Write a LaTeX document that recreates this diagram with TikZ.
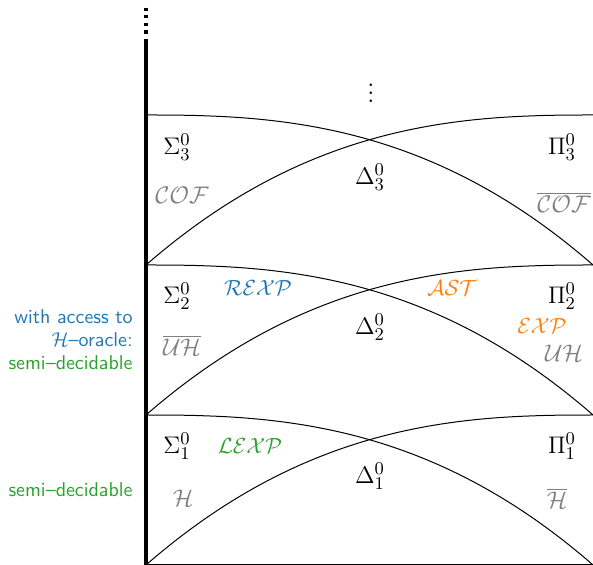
\documentclass[tikz,border=0pt]{standalone}
\definecolor{cblue}{RGB}{31,119,180}
\definecolor{corange}{RGB}{255,127,14}
\definecolor{cgreen}{RGB}{44,160,44}
\begin{document}
\begin{tikzpicture}[x=0.5pt,y=-0.5pt,
  curve/.style={line width=0.5pt},
  lvl/.style={font=\fontsize{13}{15}\selectfont, inner sep=0pt},
  cls/.style={text=gray, font=\fontsize{13}{15}\selectfont, inner sep=0pt},
  lang/.style={font=\fontsize{11}{13}\selectfont, inner sep=0pt},
  side/.style={font=\sffamily\fontsize{10}{11.5}\selectfont, align=right, anchor=east, inner sep=0pt}]
\useasboundingbox (0,0) rectangle (593,565);
% axis
\draw[line width=1.6pt] (146,39) -- (146,565);
\draw[line width=1.6pt, dash pattern=on 1.6pt off 2.2pt] (146,7.7) -- (146,36);
\draw[curve] (146,564.6) -- (593,564.6);
% level curves
\foreach \L in {115,265,415} {
  \draw[curve] (146,\L) -- plot[domain=0.01:1, samples=90, variable=\t] ({146+447*\t},{\L+150*(\t)^2.6});
  \draw[curve] (593,\L) -- plot[domain=0.01:1, samples=90, variable=\t] ({593-447*\t},{\L+150*(\t)^2.6});
}
\node[lvl] (vd) at (371,87) {$\vdots$};
% level 3
\node[lvl] (s3) at (177,147) {$\Sigma^0_3$};
\node[lvl] (p3) at (562,147) {$\Pi^0_3$};
\node[lvl] (d3) at (370,177) {$\Delta^0_3$};
\node[cls] (cof) at (182,195) {$\mathcal{COF}$};
\node[cls] (ncof) at (564,202) {$\overline{\mathcal{COF}}$};
% level 2
\node[lvl] (s2) at (177,296) {$\Sigma^0_2$};
\node[lvl] (p2) at (562,296) {$\Pi^0_2$};
\node[lvl] (d2) at (370,327) {$\Delta^0_2$};
\node[lang, text=cblue] (rexp) at (258,288) {$\mathcal{REXP}$};
\node[lang, text=corange] (ast) at (452,288) {$\mathcal{AST}$};
\node[lang, text=corange] (exp) at (542,326) {$\mathcal{EXP}$};
\node[cls] (nuh) at (182,345) {$\overline{\mathcal{UH}}$};
\node[cls] (uh) at (564,353) {$\mathcal{UH}$};
% level 1
\node[lvl] (s1) at (177,446) {$\Sigma^0_1$};
\node[lvl] (p1) at (562,446) {$\Pi^0_1$};
\node[lvl] (d1) at (370,476) {$\Delta^0_1$};
\node[lang, text=cgreen] (lexp) at (250,446) {$\mathcal{LEXP}$};
\node[cls] (h) at (183,498) {$\mathcal{H}$};
\node[cls] (nh) at (557,498) {$\overline{\mathcal{H}}$};
% side labels
\node[side] (orc) at (133,340) {\textcolor{cblue}{with access to}\\\textcolor{cblue}{$\mathcal{H}$--oracle:}\\\textcolor{cgreen}{semi--decidable}};
\node[side] (sd) at (133,490) {\textcolor{cgreen}{semi--decidable}};
\end{tikzpicture}
\end{document}
